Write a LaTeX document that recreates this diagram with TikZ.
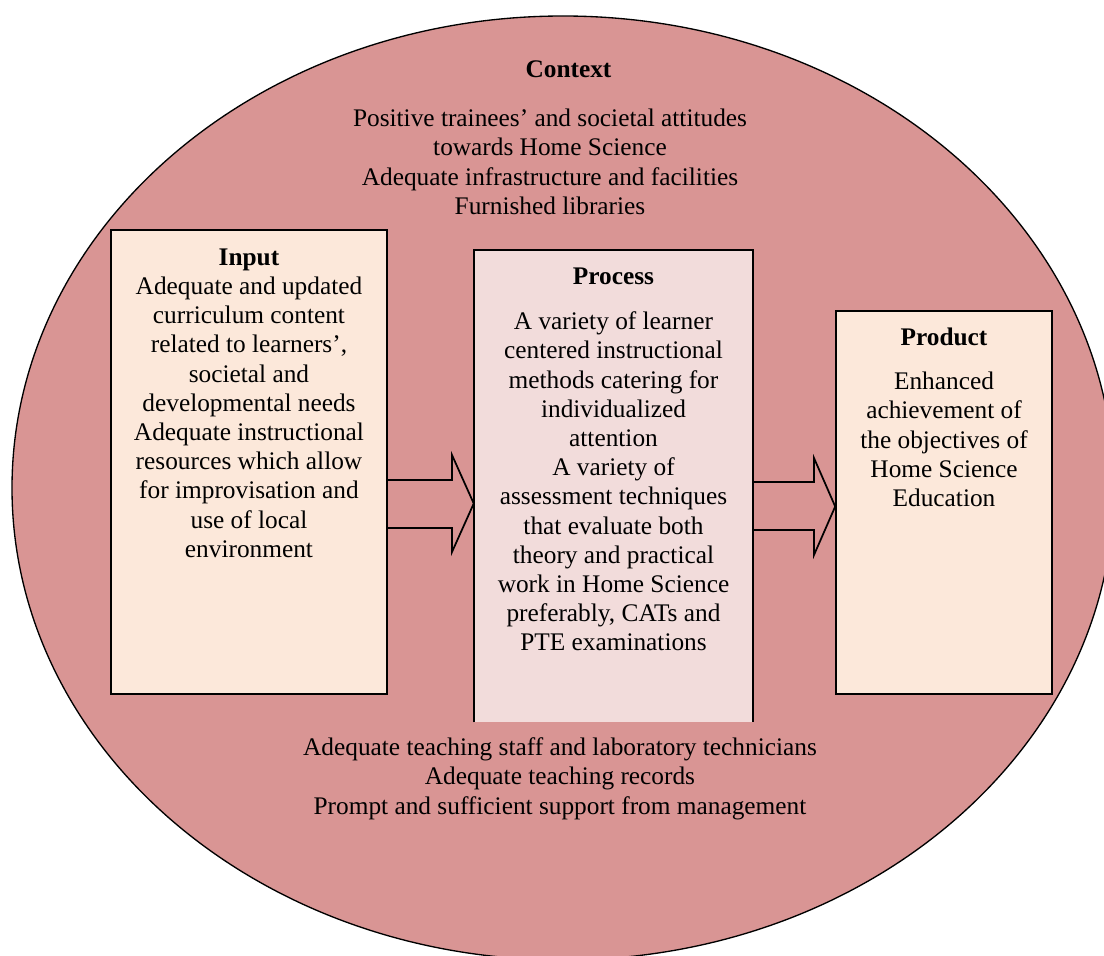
\documentclass[tikz,border=0pt]{standalone}
\usepackage{fontspec}
\setmainfont{Liberation Serif}
\definecolor{ctxpink}{HTML}{D99594}
\definecolor{boxpeach}{HTML}{FCE8DA}
\definecolor{procpink}{HTML}{F2DCDB}
\begin{document}
\begin{tikzpicture}[x=0.75pt,y=-0.75pt,
  txt/.style={font=\fontsize{19}{21.9}\selectfont, align=center, inner sep=0pt, anchor=north},
  head/.style={txt, font=\fontsize{19}{21.9}\selectfont\bfseries},
  stagebox/.style={draw=black, line width=1.2pt, fill=boxpeach, inner sep=0pt},
  blockarrow/.style={draw=black, line width=1.3pt, line join=miter}
]
\useasboundingbox (0,0) rectangle (1104,956);

% context ellipse, cut off by the page edges
\begin{scope}
  \clip (0,0) rectangle (1104,956);
  \draw[fill=ctxpink, line width=1pt] (563,488) ellipse [x radius=413.25pt, y radius=354pt];
\end{scope}

% stage boxes
\node[stagebox, minimum width=207pt, minimum height=348pt] (input) at (249,462) {};
\node[fill=procpink, draw=none, inner sep=0pt, minimum width=209.25pt, minimum height=354pt] (process) at (613.5,486) {};
\draw[line width=1.2pt] (process.south west) -- (process.north west) -- (process.north east) -- (process.south east);
\node[stagebox, minimum width=162pt, minimum height=287.25pt] (product) at (944,502.5) {};

% block arrows between the stages
\draw[blockarrow] (input.east |- 0,480) -- (452,480) -- (452,455) -- (process.west |- 0,503.5)
  -- (452,552) -- (452,528) -- (input.east |- 0,528);
\draw[blockarrow] (process.east |- 0,482) -- (814,482) -- (814,458) -- (product.west |- 0,506.5)
  -- (814,555) -- (814,530) -- (process.east |- 0,530);

% context texts
\node[head] (ctxtitle) at (568.5,57) {\strut Context};
\node[txt] (ctxtop) at (550,106) {\strut Positive trainees’ and societal attitudes\\towards Home Science\\Adequate infrastructure and facilities\\Furnished libraries};
\node[txt] (ctxbottom) at (560,735) {\strut Adequate teaching staff and laboratory technicians\\Adequate teaching records\\Prompt and sufficient support from management};

% input text
\node[txt] (inputtext) at (249,244.5) {\strut\textbf{Input}\\Adequate and updated\\curriculum content\\related to learners’,\\societal and\\developmental needs\\Adequate instructional\\resources which allow\\for improvisation and\\use of local\\environment};

% process text
\node[head] (proctitle) at (613.5,264) {\strut Process};
\node[txt] (proctext) at (613.5,309) {\strut A variety of learner\\centered instructional\\methods catering for\\individualized\\attention\\A variety of\\assessment techniques\\that evaluate both\\theory and practical\\work in Home Science\\preferably, CATs and\\PTE examinations};

% product text
\node[head] (prodtitle) at (944,325) {\strut Product};
\node[txt] (prodtext) at (944,369) {\strut Enhanced\\achievement of\\the objectives of\\Home Science\\Education};
\end{tikzpicture}
\end{document}
